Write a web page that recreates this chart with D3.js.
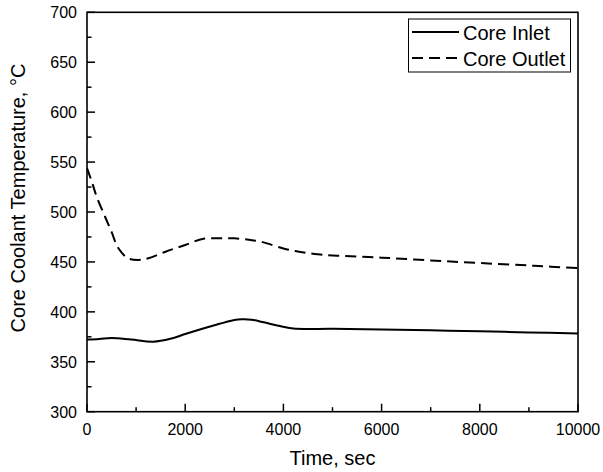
<!DOCTYPE html>
<html>
<head>
<meta charset="utf-8">
<script src="https://cdn.jsdelivr.net/npm/d3@7"></script>
<style>
  body { margin: 0; background: #fff; }
  svg text { font-family: "Liberation Sans", Arial, sans-serif; fill: #000; }
</style>
</head>
<body>
<div id="chart"></div>
<script>
// time (sec) / temperature (C)
var inletTime = [0, 250, 500, 900, 1350, 1700, 2000, 2400, 2700, 3000, 3150, 3350, 3600, 3900, 4200, 5000, 6000, 7000, 8000, 9000, 10000];
var inletTemp = [372.3, 372.8, 373.8, 372.2, 370.1, 373.0, 377.8, 383.8, 388.0, 391.8, 392.6, 392.2, 389.5, 386.0, 383.3, 383.0, 382.4, 381.5, 380.5, 379.4, 378.4];

var outletTime = [0, 100, 200, 370, 500, 640, 840, 1050, 1250, 1600, 2000, 2370, 2700, 3000, 3300, 3550, 4000, 4350, 4700, 5100, 6000, 7000, 8000, 9100, 10000];
var outletTemp = [544, 530, 515, 495, 480, 463.7, 453.6, 452, 453.6, 460.2, 467, 473.2, 473.6, 473.6, 472.2, 470.2, 463.5, 460, 457.6, 456.2, 454.3, 451.5, 448.9, 446.2, 443.8];

var xTicks = [0, 2000, 4000, 6000, 8000, 10000];
var yTicks = [300, 350, 400, 450, 500, 550, 600, 650, 700];

var seriesNames = ['Core Inlet', 'Core Outlet'];

var width = 603, height = 472;
var margin = {left: 87, right: 25, top: 12.3, bottom: 60.3};

var svg = d3.select('#chart').append('svg')
    .attr('width', width)
    .attr('height', height);

var x = d3.scaleLinear().domain([0, 10000]).range([margin.left, width - margin.right]);
var y = d3.scaleLinear().domain([300, 700]).range([height - margin.bottom, margin.top]);

var x0 = x.range()[0], x1 = x.range()[1];
var y0 = y.range()[0], y1 = y.range()[1];

/* Минорные и мажорные засечки внутрь */
var minorX = d3.range(1000, 10000, 2000);
var minorY = d3.range(325, 700, 50);

var ticks = svg.append('g').attr('stroke', '#000').attr('stroke-width', 1.5);
ticks.selectAll('.xmaj').data(xTicks).enter().append('line')
    .attr('x1', function(d) { return x(d); }).attr('x2', function(d) { return x(d); })
    .attr('y1', y0).attr('y2', y0 - 8);
ticks.selectAll('.xmin').data(minorX).enter().append('line')
    .attr('x1', function(d) { return x(d); }).attr('x2', function(d) { return x(d); })
    .attr('y1', y0).attr('y2', y0 - 4.5);
ticks.selectAll('.ymaj').data(yTicks).enter().append('line')
    .attr('x1', x0).attr('x2', x0 + 8)
    .attr('y1', function(d) { return y(d); }).attr('y2', function(d) { return y(d); });
ticks.selectAll('.ymin').data(minorY).enter().append('line')
    .attr('x1', x0).attr('x2', x0 + 4.5)
    .attr('y1', function(d) { return y(d); }).attr('y2', function(d) { return y(d); });

// frame
svg.append('rect')
    .attr('x', x0).attr('y', y1)
    .attr('width', x1 - x0).attr('height', y0 - y1)
    .attr('fill', 'none').attr('stroke', '#000').attr('stroke-width', 1.6);

svg.selectAll('.xlab').data(xTicks).enter().append('text')
    .attr('x', function(d) { return x(d); })
    .attr('y', y0 + 23.5)
    .attr('text-anchor', 'middle')
    .attr('font-size', 16)
    .text(function(d) { return d; });

svg.selectAll('.ylab').data(yTicks).enter().append('text')
    .attr('x', x0 - 10)
    .attr('y', function(d) { return y(d) + 6; })
    .attr('text-anchor', 'end')
    .attr('font-size', 16)
    .text(function(d) { return d; });

svg.append('text')
    .attr('x', (x0 + x1) / 2)
    .attr('y', 465)
    .attr('text-anchor', 'middle')
    .attr('font-size', 20)
    .text('Time, sec');

svg.append('text')
    .attr('transform', 'translate(25,198) rotate(-90)')
    .attr('text-anchor', 'middle')
    .attr('font-size', 20)
    .text('Core Coolant Temperature, \u00b0C');

var line = d3.line()
    .x(function(d) { return x(d[0]); })
    .y(function(d) { return y(d[1]); })
    .curve(d3.curveCatmullRom.alpha(0.5));

var inlet = d3.zip(inletTime, inletTemp);
var outlet = d3.zip(outletTime, outletTemp);

svg.append('path').datum(inlet)
    .attr('d', line)
    .attr('fill', 'none').attr('stroke', '#000').attr('stroke-width', 2);

svg.append('path').datum(outlet)
    .attr('d', line)
    .attr('fill', 'none').attr('stroke', '#000').attr('stroke-width', 2)
    .attr('stroke-dasharray', '11,6');

// legend
var legend = svg.append('g');
legend.append('rect')
    .attr('x', 408.5).attr('y', 19)
    .attr('width', 162).attr('height', 53)
    .attr('fill', '#fff').attr('stroke', '#000').attr('stroke-width', 1);

var dashes = [null, '11,6'];
seriesNames.forEach(function(name, i) {
    var ry = 32 + i * 26;
    legend.append('line')
        .attr('x1', 412).attr('x2', 459)
        .attr('y1', ry).attr('y2', ry)
        .attr('stroke', '#000').attr('stroke-width', 2)
        .attr('stroke-dasharray', dashes[i]);
    legend.append('text')
        .attr('x', 463).attr('y', ry + 7.5)
        .attr('font-size', 20)
        .text(name);
});
</script>
</body>
</html>
